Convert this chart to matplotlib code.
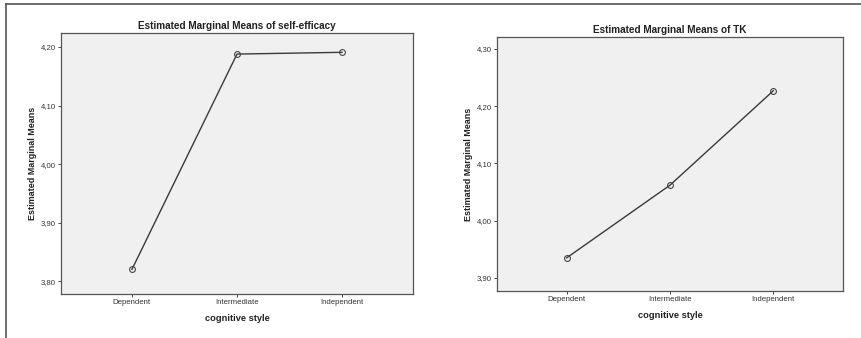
import matplotlib.pyplot as plt
from matplotlib.ticker import FuncFormatter
from matplotlib.lines import Line2D

plt.rcParams['font.family'] = ['Liberation Sans', 'DejaVu Sans']

categories = ["Dependent", "Intermediate", "Independent"]
self_efficacy = [3.820, 4.188, 4.191]
tk = [3.935, 4.062, 4.227]
se_ticks = [3.80, 3.90, 4.00, 4.10, 4.20]
tk_ticks = [3.90, 4.00, 4.10, 4.20, 4.30]

W, H = 862, 338
fig = plt.figure(figsize=(W / 100, H / 100), dpi=100)


def box(x0, y0, x1, y1):
    return [x0 / W, 1 - y1 / H, (x1 - x0) / W, (y1 - y0) / H]


def comma(v, _):
    return f"{v:.2f}".replace(".", ",")


def panel(rect, values, ticks, ylim, title):
    ax = fig.add_axes(rect)
    ax.set_facecolor("#f0f0f0")
    ax.plot(range(len(categories)), values, color="#3a3a3a", lw=1.0,
            marker="o", ms=4.2, mfc="none", mec="#444444", mew=0.8)
    ax.set_xlim(-0.675, len(categories) - 1 + 0.675)
    ax.set_ylim(*ylim)
    ax.set_xticks(range(len(categories)))
    ax.set_xticklabels(categories)
    ax.set_yticks(ticks)
    ax.yaxis.set_major_formatter(FuncFormatter(comma))
    ax.tick_params(labelsize=5.6, length=2.5, width=0.7, color="#444444",
                   labelcolor="#333333", pad=1)
    for s in ax.spines.values():
        s.set_color("#555555")
        s.set_linewidth(0.9)
    ax.set_title(title, fontsize=7.2, fontweight="bold", pad=3, color="#222222")
    ax.set_xlabel("cognitive style", fontsize=6.7, fontweight="bold",
                  labelpad=6, color="#222222")
    ax.set_ylabel("Estimated Marginal Means", fontsize=6.5, fontweight="bold",
                  labelpad=3, color="#222222")
    return ax


panel(box(61, 33, 413, 294), self_efficacy, se_ticks, (3.778, 4.224),
      "Estimated Marginal Means of self-efficacy")
panel(box(497, 37, 843, 291), tk, tk_ticks, (3.877, 4.321),
      "Estimated Marginal Means of TK")

# frame lines at top and left of the image
fig.add_artist(Line2D([6 / W, 1], [1 - 4 / H, 1 - 4 / H], color="#555555", lw=1.2))
fig.add_artist(Line2D([6 / W, 6 / W], [0, 1 - 4 / H], color="#555555", lw=1.2))

fig.savefig("out.png", dpi=100)
